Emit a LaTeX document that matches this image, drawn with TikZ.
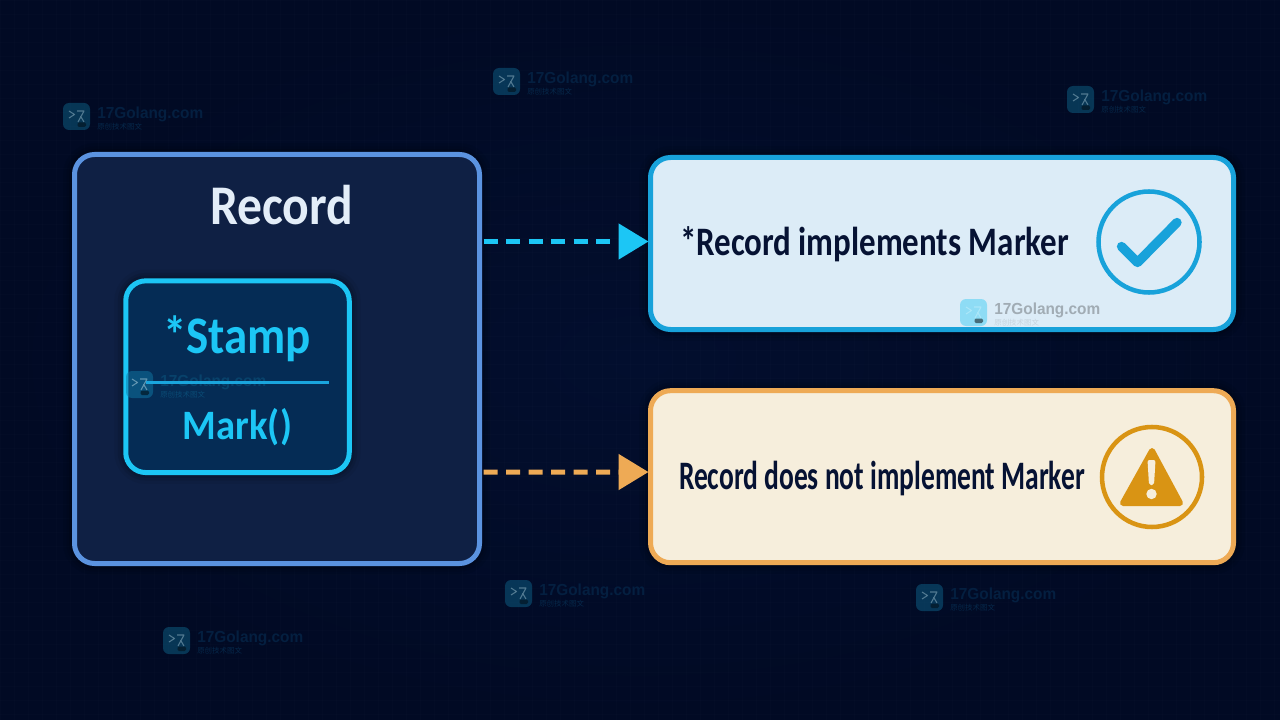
\documentclass[tikz,border=0pt]{standalone}
\usepackage{fontspec}
\usepackage{graphicx}
\usetikzlibrary{arrows.meta}
\setmainfont{Carlito}
\newfontfamily\cjkwm{Noto Sans CJK SC}
\newfontfamily\wmfont{Liberation Sans}
\definecolor{bgmid}{HTML}{020E2E}
\definecolor{bgout}{HTML}{010A24}
\definecolor{recfill}{HTML}{0F2044}
\definecolor{recline}{HTML}{5B93E0}
\definecolor{cyanline}{HTML}{1CC6F5}
\definecolor{stampfill}{HTML}{052C55}
\definecolor{divline}{HTML}{1AA5DD}
\definecolor{okfill}{HTML}{DCECF7}
\definecolor{okline}{HTML}{18A2DA}
\definecolor{warnfill}{HTML}{F6EEDC}
\definecolor{warnline}{HTML}{EEAA55}
\definecolor{warnicon}{HTML}{D99414}
\definecolor{inktext}{HTML}{061233}
\definecolor{titletext}{HTML}{E3EDF8}
\newcommand{\fitw}[2]{\resizebox{\dimexpr #1pt*3/4\relax}{\height}{#2}}
\newcommand{\wmark}[7]{% name, x, y, logo opacity, text colour, logo colour, subtext colour
  \node[logobox,fill=#6,fill opacity=#4] (#1l) at (#2+13.5,#3+13.5) {};
  \draw[#6!30!white,opacity=#4,line width=0.8pt,line join=round]
    (#2+6,#3+8) -- (#2+11.5,#3+11.5) -- (#2+6,#3+15)
    (#2+14,#3+8) -- (#2+21,#3+8) -- (#2+15,#3+19)
    (#2+17.5,#3+13) -- (#2+21,#3+19);
  \fill[black,opacity=#4,rounded corners=1pt] (#2+14.5,#3+19.5) rectangle (#2+23,#3+24);
  \node[wmtext,text=#5] (#1t) at (#2+34,#3+11) {\fitw{106}{17Golang.com}};
  \node[wmsub,text=#7] (#1s) at (#2+34,#3+23.5) {原创技术图文};
}
\tikzset{
  softshadow/.style={
    preaction={draw=black,draw opacity=.06,line width=17pt},
    preaction={draw=black,draw opacity=.08,line width=12pt},
    preaction={draw=black,draw opacity=.10,line width=8pt}},
  card/.style={draw,line width=3.75pt,rounded corners=15pt,inner sep=0pt,outer sep=0pt,softshadow},
  logobox/.style={rectangle,rounded corners=4.5pt,minimum size=20.25pt,inner sep=0pt},
  wmtext/.style={anchor=west,inner sep=0pt,font=\wmfont\bfseries\fontsize{12}{12}\selectfont},
  wmsub/.style={anchor=west,inner sep=0pt,font=\cjkwm\fontsize{5.6}{6}\selectfont},
  label/.style={anchor=base,inner sep=0pt,font=\bfseries},
  flow/.style={line width=3.75pt,dash pattern=on 10.5pt off 6.375pt,dash phase=13.875pt,
    -{Triangle[length=22.5pt,width=26.25pt]},shorten >=1.5pt},
}
\begin{document}
\begin{tikzpicture}[x=0.75pt,y=-0.75pt]
\useasboundingbox (0,0) rectangle (1280,720);
\shade[inner color=bgmid,outer color=bgout] (0,0) rectangle (1280,720);
\foreach \gx in {0,14,...,1280} \draw[white,opacity=.01,line width=.6pt] (\gx,0) -- (\gx,720);
\foreach \gy in {0,14,...,720} \draw[white,opacity=.01,line width=.6pt] (0,\gy) -- (1280,\gy);

% watermarks on the background
\wmark{wa}{493}{68}{.42}{cyanline!9!bgmid}{cyanline!55!bgmid}{cyanline!14!bgmid}
\wmark{wb}{63}{103}{.42}{cyanline!9!bgmid}{cyanline!55!bgmid}{cyanline!14!bgmid}
\wmark{wc}{1067}{86}{.42}{cyanline!9!bgmid}{cyanline!55!bgmid}{cyanline!14!bgmid}
\wmark{wd}{505}{580}{.42}{cyanline!9!bgmid}{cyanline!55!bgmid}{cyanline!14!bgmid}
\wmark{we}{916}{584}{.42}{cyanline!9!bgmid}{cyanline!55!bgmid}{cyanline!14!bgmid}
\wmark{wf}{163}{627}{.42}{cyanline!9!bgmid}{cyanline!55!bgmid}{cyanline!14!bgmid}

% main boxes
\node[card,draw=recline,fill=recfill,minimum width=405*0.75pt,minimum height=409*0.75pt] (record) at (277,359) {};
\node[card,draw=cyanline,fill=stampfill,minimum width=223.5*0.75pt,minimum height=191.7*0.75pt] (stamp) at (237.5,376.7) {};
\node[card,draw=okline,fill=okfill,minimum width=583*0.75pt,minimum height=172*0.75pt] (impl) at (942,243.5) {};
\node[card,draw=warnline,fill=warnfill,minimum width=583*0.75pt,minimum height=172*0.75pt] (warn) at (942,476.7) {};

% labels
\node[label,text=titletext] (rtitle) at (281.5,225) {\fontsize{42}{45}\selectfont\fitw{143}{Record}};
\node[label,text=cyanline] (stext) at (237,353) {\fontsize{39.6}{42}\selectfont\fitw{148}{*Stamp}};
\node[label,text=cyanline] (mtext) at (237.5,439) {\fontsize{31.4}{34}\selectfont\fitw{109}{Mark()}};
\node[label,text=inktext] (itext) at (874.5,255) {\fontsize{30.3}{33}\selectfont\fitw{389}{*Record implements Marker}};
\node[label,text=inktext] (wtext) at (882,489.5) {\fontsize{30.3}{33}\selectfont\fitw{406}{Record does not implement Marker}};

% watermarks on the boxes
\wmark{wg}{126}{371}{.5}{cyanline!14!stampfill}{cyanline!50!stampfill}{cyanline!20!stampfill}
\wmark{wh}{960}{299}{.5}{black!27!okfill}{cyanline!80!okfill}{black!10!okfill}

% divider
\coordinate (dl) at (146,382);
\coordinate (dr) at (329,382);
\draw[divline,line width=2.25pt] (dl) -- (dr);

% connectors
\draw[flow,cyanline] (record.east |- 0,241.5) -- ([yshift=1.5pt]impl.west);
\draw[flow,warnline] (record.east |- 0,472) -- ([yshift=3.5pt]warn.west);

% check icon
\node[circle,draw=okline,line width=3.4pt,minimum size=101*0.75pt,inner sep=0pt] (okc) at (1149,242) {};
\draw[okline,line width=7pt,line cap=round,line join=round] (1121.5,246.5) -- (1137.5,262.5) -- (1177,222.5);

% warning icon
\node[circle,draw=warnicon,line width=3.4pt,minimum size=100*0.75pt,inner sep=0pt] (wc) at (1152,477) {};
\filldraw[warnicon,line width=4.5pt,line join=round] (1152,451) -- (1123,503) -- (1180,503) -- cycle;
\fill[warnfill,rounded corners=1.5pt] (1147.5,460) -- (1155.5,460) -- (1154,485) -- (1149,485) -- cycle;
\fill[warnfill] (1151.5,494) circle (3.9pt);
\end{tikzpicture}
\end{document}
